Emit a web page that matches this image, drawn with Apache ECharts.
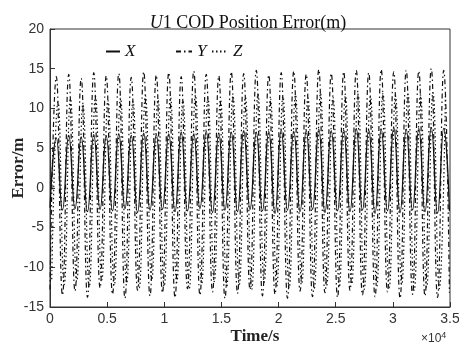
<!DOCTYPE html>
<html><head><meta charset="utf-8">
<script src="https://cdn.jsdelivr.net/npm/echarts@6/dist/echarts.min.js"></script>
<style>html,body{margin:0;padding:0;background:#fff}#c{width:459px;height:347px}</style>
</head><body><div id="c"></div>
<script>
// Time (s) of successive extrema for X and Y
var times = [0,550,1090,1640,2190,2730,3280,3830,4380,4920,5470,6020,6560,7110,7660,8200,8750,9300,9840,10390,10940,11480,12030,12580,13120,13670,14220,14770,15310,15860,16410,16950,17500,18050,18590,19140,19690,20230,20780,21330,21880,22420,22970,23520,24060,24610,25160,25700,26250,26800,27340,27890,28440,28980,29530,30080,30630,31170,31720,32270,32810,33360,33910,34450,34950];
// Time (s) of successive extrema for Z
var zTimes = [150,700,1240,1790,2340,2880,3430,3980,4530,5070,5620,6170,6710,7260,7810,8350,8900,9450,9990,10540,11090,11630,12180,12730,13270,13820,14370,14920,15460,16010,16560,17100,17650,18200,18740,19290,19840,20380,20930,21480,22030,22570,23120,23670,24210,24760,25310,25850,26400,26950,27490,28040,28590,29130,29680,30230,30780,31320,31870,32420,32960,33510,34060,34600];
var xVals = [-2.5,6.3,-2.8,6.6,-2.6,6.4,-3.0,6.7,-2.7,6.5,-2.9,6.8,-2.6,6.6,-3.1,6.9,-2.8,6.7,-2.7,6.8,-3.0,7.0,-2.9,6.8,-2.6,7.1,-3.1,6.9,-2.8,7.0,-3.0,7.2,-2.7,7.0,-2.9,7.1,-3.2,7.3,-2.8,7.1,-3.0,7.2,-2.7,7.4,-3.1,7.2,-2.9,7.3,-3.0,7.5,-2.8,7.3,-3.2,7.4,-2.9,7.6,-3.1,7.4,-2.8,7.5,-3.0,7.6,-3.2,7.5,-2.9];
var yVals = [-12.8,14.0,-13.5,14.3,-13.0,13.8,-13.8,14.5,-12.6,14.1,-13.4,14.4,-13.9,13.9,-12.9,14.6,-13.6,14.2,-13.2,14.5,-13.8,14.0,-12.7,14.7,-13.5,14.3,-13.1,14.1,-13.9,14.6,-13.3,14.4,-12.8,14.8,-13.6,14.2,-13.4,14.5,-13.9,14.7,-13.0,14.3,-13.7,14.9,-13.2,14.4,-13.8,14.6,-12.9,14.8,-13.5,14.5,-13.7,14.9,-13.1,14.6,-13.9,14.8,-13.4,14.7,-13.6,15.0,-13.8,14.8,-13.2];
var zVals = [-11.5,10.8,-12.2,11.2,-11.8,10.5,-12.5,11.5,-11.6,11.0,-12.3,11.3,-12.0,10.9,-12.6,11.6,-11.7,11.1,-12.4,11.4,-11.9,11.0,-12.7,11.7,-12.1,11.3,-11.8,11.1,-12.5,11.6,-12.2,11.4,-12.8,11.8,-11.9,11.2,-12.4,11.5,-12.6,11.7,-12.0,11.3,-12.7,11.9,-12.3,11.4,-12.5,11.6,-12.1,11.8,-12.8,11.5,-12.4,11.9,-12.6,11.6,-12.2,11.8,-12.9,11.7,-12.5,12.0,-12.7,11.8];
var seriesNames = ['X','Y','Z'];
var xTickLabels = ['0','0.5','1','1.5','2','2.5','3','3.5'];

function pairs(t, v){ var o=[]; for (var i=0;i<Math.min(t.length,v.length);i++) o.push([t[i],v[i]]); return o; }

var chart = echarts.init(document.getElementById('c'), null, {renderer:'canvas'});
var legendText = {fontFamily:'Liberation Serif', fontStyle:'italic', fontSize:17, color:'#111'};
var legendCommon = {top:43, itemHeight:10, itemGap:0, padding:0, textStyle:legendText,
  itemStyle:{opacity:0, borderWidth:0}};
chart.setOption({
  animation:false,
  backgroundColor:'#fff',
  title:{
    text:'{i|U}1 COD Position Error(m)', left:243, textAlign:'center', top:9,
    textStyle:{fontFamily:'Liberation Serif', fontSize:18, fontWeight:'normal', color:'#111',
      rich:{i:{fontFamily:'Liberation Serif', fontSize:18, fontStyle:'italic', color:'#111'}}}
  },
  legend:[
    Object.assign({data:[seriesNames[0]], left:105, itemWidth:14}, legendCommon),
    Object.assign({data:[seriesNames[1]], left:175, itemWidth:16}, legendCommon),
    Object.assign({data:[seriesNames[2]], left:211, itemWidth:16}, legendCommon)
  ],
  grid:{left:50, right:9, top:29, bottom:40, outerBoundsMode:'none', containLabel:false,
    show:true, borderColor:'#333', borderWidth:1, backgroundColor:'transparent'},
  xAxis:{
    type:'value', min:0, max:35000, interval:5000,
    name:'Time/s', nameLocation:'middle', nameGap:21, nameMoveOverlap:false,
    nameTextStyle:{fontFamily:'Liberation Serif', fontSize:17, fontWeight:'bold', color:'#222', padding:[0,0,0,10]},
    axisLine:{show:true, onZero:false, lineStyle:{color:'#333', width:1}},
    axisTick:{show:true, inside:true, length:5, lineStyle:{color:'#333'}},
    axisLabel:{fontFamily:'Liberation Sans', fontSize:14, color:'#333', margin:5,
      formatter:function(v){ return xTickLabels[Math.round(v/5000)]; }},
    splitLine:{show:false}
  },
  yAxis:{
    type:'value', min:-15, max:20, interval:5,
    name:'Error/m', nameLocation:'middle', nameGap:23, nameMoveOverlap:false,
    nameTextStyle:{fontFamily:'Liberation Serif', fontSize:17, fontWeight:'bold', color:'#222'},
    axisLine:{show:true, lineStyle:{color:'#333', width:1}},
    axisTick:{show:true, inside:true, length:5, lineStyle:{color:'#333'}},
    axisLabel:{fontFamily:'Liberation Sans', fontSize:14, color:'#333', margin:6},
    splitLine:{show:false}
  },
  graphic:[{
    type:'text', left:421, top:331,
    style:{text:'×10{s|4}', fontFamily:'Liberation Sans', fontSize:12, fill:'#333',
      rich:{s:{fontSize:9, verticalAlign:'top', padding:[0,0,6,0], fill:'#333'}}}
  }],
  series:[
    {name:'Y', type:'line', data:pairs(times,yVals), smooth:0.5, symbol:'none', showSymbol:false, z:2,
      lineStyle:{color:'#111', width:1.2, type:[5,3,1.5,3]}, itemStyle:{color:'#111'}},
    {name:'Z', type:'line', data:pairs(zTimes,zVals), smooth:0.5, symbol:'none', showSymbol:false, z:2,
      lineStyle:{color:'#111', width:1.2, type:[1.5,2.5]}, itemStyle:{color:'#111'}},
    {name:'X', type:'line', data:pairs(times,xVals), smooth:0.5, symbol:'none', showSymbol:false, z:3,
      lineStyle:{color:'#111', width:1.3, type:'solid'}, itemStyle:{color:'#111'}}
  ]
});
</script></body></html>
